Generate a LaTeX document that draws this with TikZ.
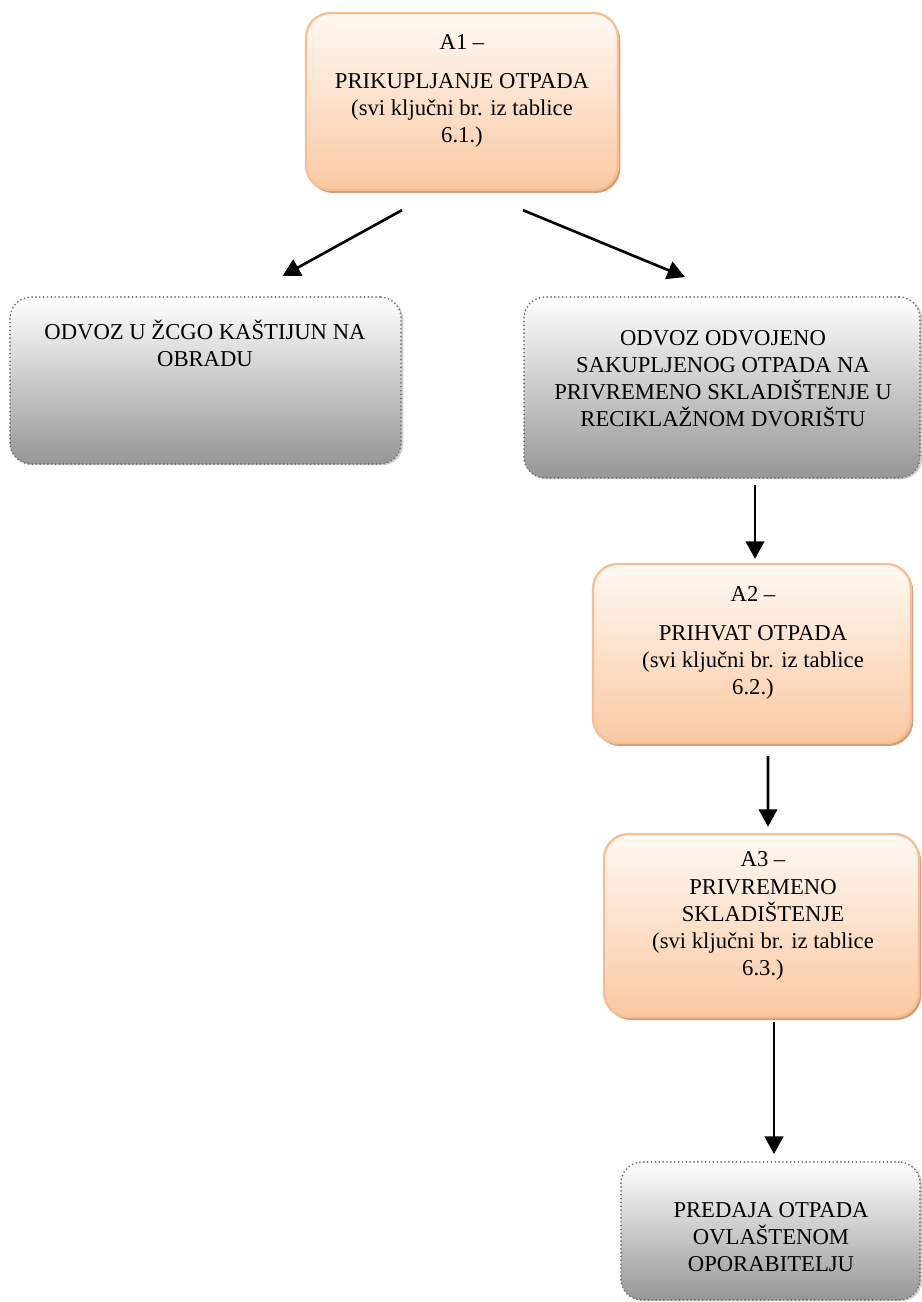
\documentclass[tikz,border=0pt]{standalone}
\usepackage{fontspec}
\setmainfont{Liberation Serif}
\usetikzlibrary{calc,fit,shadows,arrows.meta}

\definecolor{peachtop}{RGB}{255,249,243}
\definecolor{peachbot}{RGB}{250,200,162}
\definecolor{peachline}{RGB}{248,190,143}
\definecolor{peachshadow}{RGB}{208,160,124}
\definecolor{greybot}{RGB}{150,150,150}
\definecolor{greyline}{RGB}{110,110,110}

\begin{document}
\begin{tikzpicture}[x=0.02cm,y=-0.02cm]
		\tikzstyle{every node}=[font=\fontsize{12.9}{15.4}\selectfont]
		\tikzstyle{abox}=[draw=peachline, line width=1.3pt, rounded corners=14pt, top color=peachtop, bottom color=peachbot, inner sep=0pt, drop shadow={shadow xshift=1.3pt, shadow yshift=-1.7pt, fill=peachshadow, opacity=1}]
		\tikzstyle{gbox}=[draw=greyline, line width=1.1pt, dash pattern=on 0pt off 2.2pt, line cap=round, rounded corners=12pt, top color=white, bottom color=greybot, inner sep=0pt, drop shadow={shadow xshift=1.3pt, shadow yshift=-0.7pt, fill=black!30, opacity=0.6}]
		\tikzstyle{txt}=[align=center, inner sep=0pt]
		\tikzstyle{arr}=[line width=1.5pt, -{Triangle[length=10pt,width=10.5pt]}]
		
		\fill [white] (0,0) rectangle (922,1302);
		\useasboundingbox (0,0) rectangle (922,1302);
		
		\node [abox, fit={(306,13) (618,190)}] (a1) {};
		\node [gbox, fit={(10,297) (401,464)}] (lg) {};
		\node [gbox, fit={(524,297) (920,478)}] (rg) {};
		\node [abox, fit={(593,564) (911,743)}] (a2) {};
		\node [abox, fit={(604,834) (919,1017)}] (a3) {};
		\node [gbox, fit={(621,1162) (920,1300)}] (bt) {};
		
		\node [txt] (a1t) at (462,91) {A1 –\\[6.3pt]PRIKUPLJANJE OTPADA\\(svi ključni br. iz tablice\\6.1.)};
		\node [txt] (lgt) at (205,343) {ODVOZ U ŽCGO KAŠTIJUN NA\\OBRADU};
		\node [txt] (rgt) at (723,379) {ODVOZ ODVOJENO\\SAKUPLJENOG OTPADA NA\\PRIVREMENO SKLADIŠTENJE U\\RECIKLAŽNOM DVORIŠTU};
		\node [txt] (a2t) at (753,643) {A2 –\\[6.3pt]PRIHVAT OTPADA\\(svi ključni br. iz tablice\\6.2.)};
		\node [txt] (a3t) at (763,916) {A3 –\\PRIVREMENO\\SKLADIŠTENJE\\(svi ključni br. iz tablice\\6.3.)};
		\node [txt] (btt) at (771,1237) {PREDAJA OTPADA\\OVLAŠTENOM\\OPORABITELJU};
		
		\draw [arr] ($(a1.south)+(-60,19)$) -- ($(lg.north)+(77,-20)$);
		\draw [arr] ($(a1.south)+(61,19)$) -- ($(rg.north)+(-37,-19)$);
		\draw [arr] ($(rg.south)+(33,6)$) -- ($(a2.north)+(3,-4)$);
		\draw [arr] ($(a2.south)+(16,12)$) -- ($(a3.north)+(6.5,-6)$);
		\draw [arr] ($(a3.south)+(12.5,4)$) -- ($(bt.north)+(3.5,-7)$);
		
\end{tikzpicture}
\end{document}
